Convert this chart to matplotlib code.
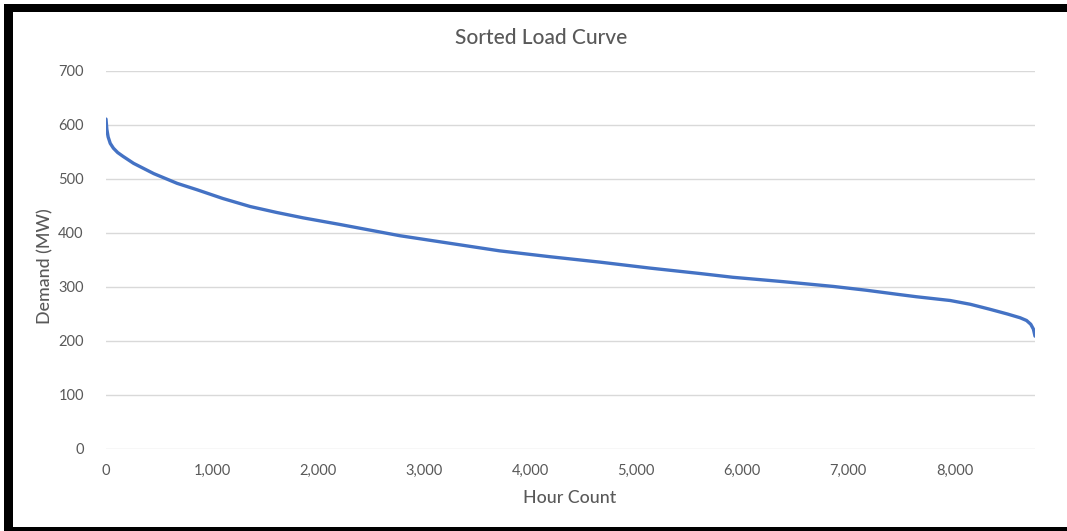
import matplotlib
matplotlib.use("Agg")
import matplotlib.pyplot as plt
from matplotlib.patches import Rectangle
from matplotlib.ticker import FuncFormatter

# Data
hours = [0, 8, 20, 40, 70, 110, 160, 260, 450, 670, 860, 1100, 1360, 1610, 1860, 2200,
         2770, 3240, 3710, 4190, 4660, 5130, 5600, 5910, 6380, 6860, 7170, 7480,
         7640, 7960, 8150, 8330, 8500, 8620, 8680, 8720, 8745, 8760]
demand = [611, 592, 578, 566, 557, 549, 542, 529, 510, 492, 480, 464, 449, 438, 428, 416,
          395, 381, 367, 356, 346, 335, 325, 318, 310, 301, 294, 286,
          282, 275, 268, 259, 250, 243, 238, 231, 222, 209]
x_ticks = [0, 1000, 2000, 3000, 4000, 5000, 6000, 7000, 8000]
y_ticks = [0, 100, 200, 300, 400, 500, 600, 700]
title = "Sorted Load Curve"
x_label = "Hour Count"
y_label = "Demand (MW)"

plt.rcParams['font.family'] = ['Lato', 'DejaVu Sans']
W, H = 1067, 531
fig = plt.figure(figsize=(W / 100, H / 100), dpi=100)
fig.patch.set_facecolor('white')

ax = fig.add_axes([106 / W, 1 - 449 / H, (1035 - 106) / W, (449 - 71) / H])
ax.plot(hours, demand, color='#4472C4', lw=2.4, solid_capstyle='round',
        solid_joinstyle='round', zorder=3)
ax.set_xlim(0, 8760)
ax.set_ylim(0, 700)
ax.set_xticks(x_ticks)
ax.set_yticks(y_ticks)
ax.xaxis.set_major_formatter(FuncFormatter(lambda v, p: f"{int(v):,}"))
ax.yaxis.set_major_formatter(FuncFormatter(lambda v, p: f"{int(v)}"))
ax.grid(axis='y', color='#D9D9D9', lw=1.0)
ax.set_axisbelow(True)
for s in ax.spines.values():
    s.set_visible(False)
ax.tick_params(axis='both', length=0, labelsize=10.5, labelcolor='#595959')
ax.tick_params(axis='y', pad=16)
ax.tick_params(axis='x', pad=11)

fig.text(541 / W, 1 - 38 / H, title, ha='center', va='center', fontsize=15,
         color='#595959', fontweight='medium')
fig.text(570 / W, 1 - 498 / H, x_label, ha='center', va='center', fontsize=12.8,
         color='#595959', fontweight='medium')
fig.text(45 / W, 1 - 266 / H, y_label, ha='center', va='center', fontsize=12.8,
         color='#595959', rotation=90, fontweight='medium')

# black frame (left, top, bottom)
def px_rect(x0, y0, x1, y1):
    fig.patches.append(Rectangle((x0 / W, 1 - y1 / H), (x1 - x0) / W, (y1 - y0) / H,
                                 transform=fig.transFigure, facecolor='black',
                                 edgecolor='none', zorder=10))

px_rect(4, 4, 13, 531)
px_rect(4, 4, 1067, 12)
px_rect(4, 527, 1067, 531)

fig.savefig('out.png', dpi=100)
